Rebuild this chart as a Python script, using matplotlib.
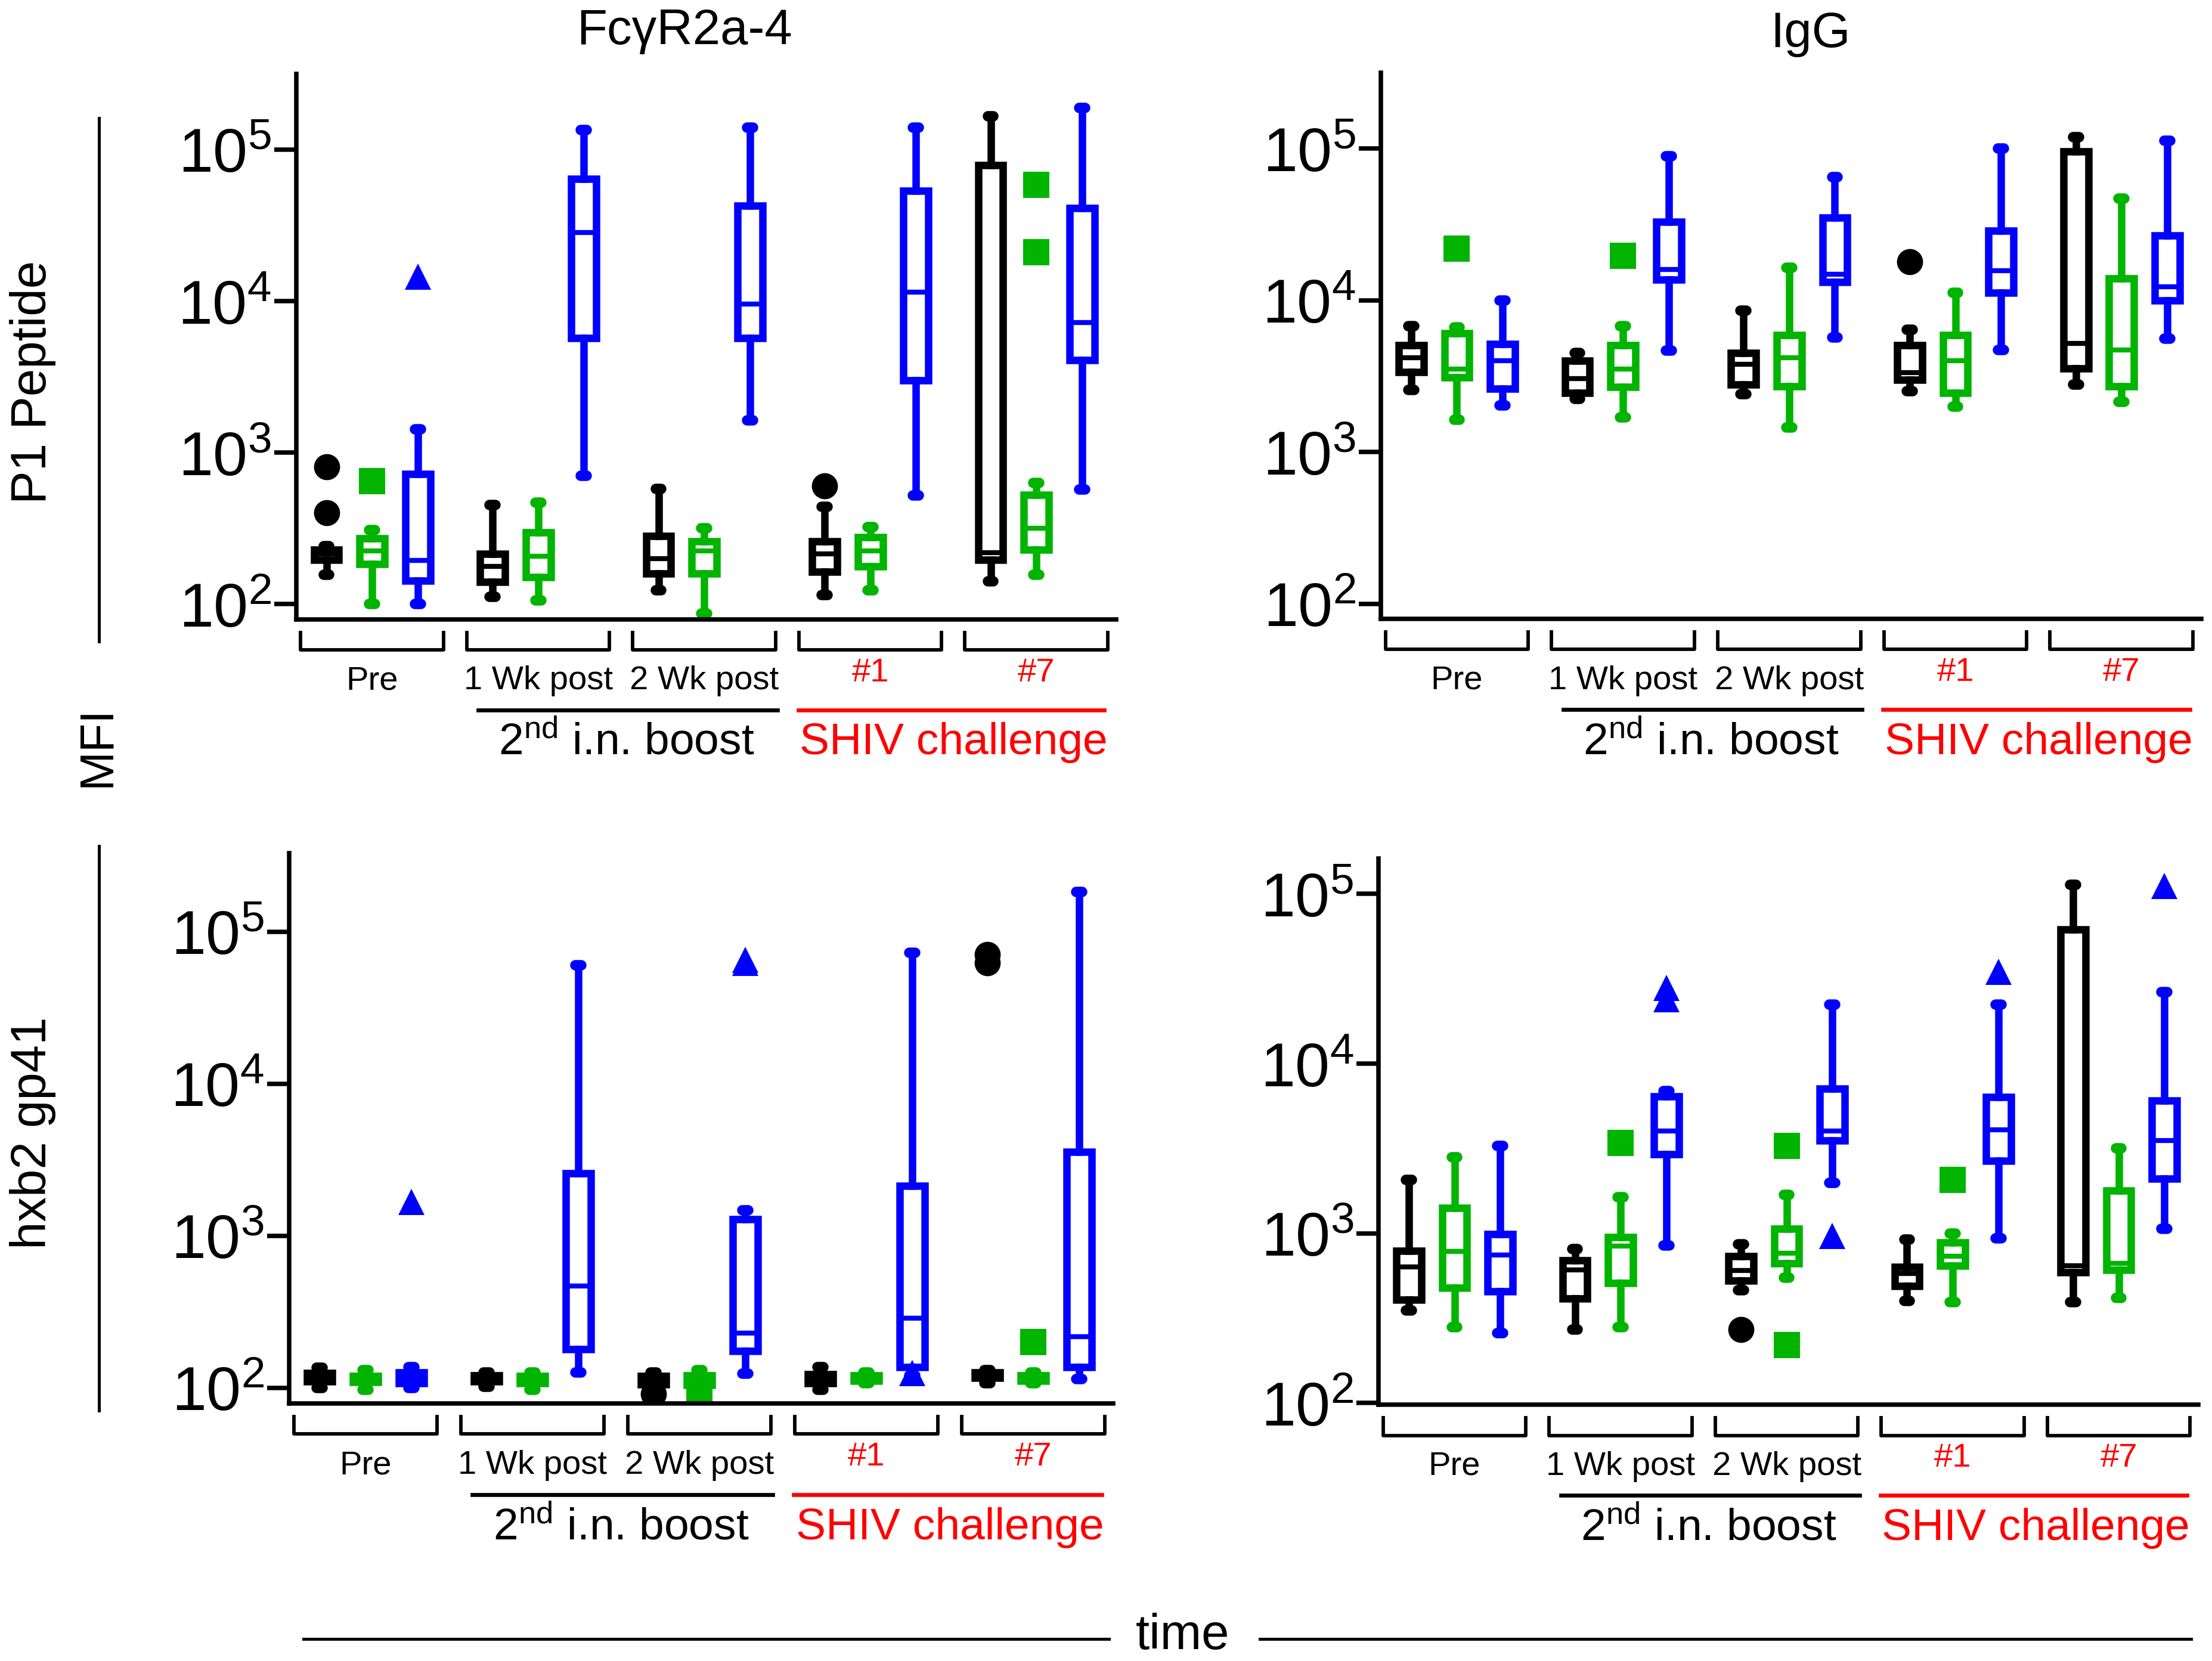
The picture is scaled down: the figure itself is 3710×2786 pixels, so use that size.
import matplotlib
matplotlib.use('Agg')
import matplotlib.pyplot as plt
import matplotlib.transforms as mtransforms
from matplotlib.lines import Line2D
from matplotlib.ticker import NullLocator

plt.rcParams['font.family'] = ['Liberation Sans', 'DejaVu Sans']
plt.rcParams['mathtext.default'] = 'regular'

# ---------------- data (MFI values) ----------------
groups = ['Pre', '1 Wk post', '2 Wk post', '#1', '#7']
group_label_colors = ['black', 'black', 'black', 'red', 'red']
series_colors = ['#000000', '#00b400', '#0000ff']
series_markers = ['o', 's', '^']

# FcgR2a-4 / P1 peptide   (rows: black, green, blue ; cols: groups)
fc_p1_whislo = [[157, 112, 124, 115, 142], [100, 106, 87, 124, 157], [100, 703, 1637, 523, 570]]
fc_p1_q1 = [[196, 140, 160, 164, 196], [184, 151, 160, 177, 229], [143, 5700, 5700, 3000, 4070]]
fc_p1_med = [[215, 177, 199, 214, 218], [224, 207, 224, 224, 318], [194, 28250, 9600, 11500, 7200]]
fc_p1_q3 = [[229, 215, 282, 261, 79000], [272, 298, 261, 276, 527], [721, 64100, 42700, 53600, 41100]]
fc_p1_whishi = [[242, 451, 579, 441, 166000], [309, 469, 318, 322, 631], [1422, 134600, 140000, 140000, 188000]]
fc_p1_fliers = [[[809, 401], [], [], [603], []],
                [[650], [], [], [], [58300, 21100]],
                [[14550], [], [], [], []]]

# IgG / P1 peptide
igg_p1_whislo = [[2570, 2233, 2415, 2510, 2780], [1637, 1698, 1456, 1985, 2150], [2020, 4660, 5700, 4690, 5570]]
igg_p1_q1 = [[3380, 2455, 2780, 3005, 3570], [3100, 2675, 2717, 2455, 2717], [2610, 13670, 13240, 11250, 10000]]
igg_p1_med = [[4170, 3055, 3800, 3350, 5190], [3515, 3515, 4170, 4010, 4690], [4010, 15960, 14900, 15730, 12250]]
igg_p1_q3 = [[5070, 4010, 4510, 5070, 96200], [6070, 5070, 5930, 5930, 14000], [5150, 33000, 35200, 28900, 26700]]
igg_p1_whishi = [[6770, 4510, 8550, 6410, 119700], [6670, 6770, 16370, 11250, 46900], [10000, 89000, 65200, 100000, 113200]]
igg_p1_fliers = [[[], [], [], [17970], []],
                 [[22000], [19600], [], [], []],
                 [[], [], [], [], []]]

# FcgR2a-4 / hxb2 gp41
fc_gp41_whislo = [[100, 102, 98, 97, 107], [97, 97, 98, 107, 107], [100, 126, 124, 121, 114]]
fc_gp41_q1 = [[110, 110, 105, 107, 116], [109, 107, 104, 111, 111], [107, 180, 175, 137, 137]]
fc_gp41_med = [[118, 116, 111, 114, 121], [114, 114, 111, 116, 116], [116, 466, 229, 288, 216]]
fc_gp41_q3 = [[125, 121, 119, 123, 126], [119, 119, 121, 121, 121], [126, 2565, 1279, 2136, 3565]]
fc_gp41_whishi = [[135, 126, 126, 137, 131], [131, 126, 131, 126, 126], [137, 60000, 1473, 72400, 183000]]
fc_gp41_fliers = [[[], [], [91], [], [62500, 70800]],
                  [[], [], [94], [], [199]],
                  [[1667], [], [62500, 65000], [125], []]]

# IgG / hxb2 gp41
igg_gp41_whislo = [[351, 271, 461, 401, 393], [281, 281, 547, 393, 416], [258, 851, 1990, 938, 1064]]
igg_gp41_q1 = [[407, 413, 527, 490, 589], [479, 508, 667, 643, 611], [455, 2925, 3515, 2680, 2100]]
igg_gp41_med = [[634, 611, 602, 580, 643], [780, 840, 762, 734, 667], [746, 4020, 4020, 4070, 3515]]
igg_gp41_q3 = [[791, 693, 734, 634, 61800], [1408, 953, 1064, 883, 1782], [988, 6400, 7150, 6350, 6040]]
igg_gp41_whishi = [[2065, 809, 865, 917, 113200], [2820, 1633, 1682, 1000, 3170], [3265, 6890, 22300, 22300, 26400]]
igg_gp41_fliers = [[[], [], [271], [], []],
                   [[], [3410], [3265, 220], [2065], []],
                   [[], [27850, 24000], [966], [34750], [111700]]]


def draw_panel(ax, whislo, q1, med, q3, whishi, fliers, ylim):
    offsets = [-0.275, 0.0, 0.275]
    for s in range(3):
        c = series_colors[s]
        stats = []
        for g in range(len(groups)):
            stats.append(dict(whislo=whislo[s][g], q1=q1[s][g], med=med[s][g],
                              q3=q3[s][g], whishi=whishi[s][g], fliers=fliers[s][g]))
        pos = [g + offsets[s] for g in range(len(groups))]
        ax.bxp(stats, positions=pos, widths=0.15, capwidths=0.035, patch_artist=True,
               boxprops=dict(facecolor='white', edgecolor=c, linewidth=3.0),
               medianprops=dict(color=c, linewidth=2.0),
               whiskerprops=dict(color=c, linewidth=3.0),
               capprops=dict(color=c, linewidth=4.2, solid_capstyle='round'),
               flierprops=dict(marker=series_markers[s], markerfacecolor=c,
                               markeredgecolor=c, markersize=10.5, markeredgewidth=0))
    ax.set_yscale('log')
    ax.set_ylim(ylim)
    ax.set_xlim(-0.457, 4.48)
    ax.set_yticks([1e2, 1e3, 1e4, 1e5])
    ax.yaxis.set_minor_locator(NullLocator())
    ax.set_xticks([])
    for side in ['top', 'right']:
        ax.spines[side].set_visible(False)
    for side in ['left', 'bottom']:
        ax.spines[side].set_linewidth(1.8)
    ax.tick_params(axis='y', length=9, width=1.8, labelsize=25, pad=1)

    # group brackets and time-point labels under the x-axis
    trans = mtransforms.blended_transform_factory(ax.transData, ax.transAxes)
    for g in range(len(groups)):
        ax.plot([g - 0.43, g - 0.43, g + 0.43, g + 0.43], [-0.024, -0.056, -0.056, -0.024],
                transform=trans, clip_on=False, color='black', lw=1.4)
        col = group_label_colors[g]
        ax.text(g, -0.112 if col == 'black' else -0.097, groups[g], transform=trans,
                ha='center', va='center', fontsize=13.5, color=col)
    ax.plot([0.64, 2.44], [-0.166, -0.166], transform=trans, clip_on=False, color='black', lw=1.6)
    ax.plot([2.565, 4.41], [-0.166, -0.166], transform=trans, clip_on=False, color='red', lw=1.6)
    ax.text(1.53, -0.225, r'2$^{nd}$ i.n. boost', transform=trans, ha='center', va='center',
            fontsize=18, color='black')
    ax.text(3.5, -0.225, 'SHIV challenge', transform=trans, ha='center', va='center',
            fontsize=18, color='red')


fig = plt.figure(figsize=(3711 / 300, 2787 / 300), dpi=300)

ax_tl = fig.add_axes([0.1339, 0.6269, 0.3705, 0.3283])
ax_tr = fig.add_axes([0.6241, 0.6272, 0.3708, 0.3286])
ax_bl = fig.add_axes([0.1307, 0.1551, 0.3725, 0.3311])
ax_br = fig.add_axes([0.6231, 0.1542, 0.3705, 0.3286])

draw_panel(ax_tl, fc_p1_whislo, fc_p1_q1, fc_p1_med, fc_p1_q3, fc_p1_whishi, fc_p1_fliers,
           (10 ** 1.9, 10 ** 5.5))
draw_panel(ax_tr, igg_p1_whislo, igg_p1_q1, igg_p1_med, igg_p1_q3, igg_p1_whishi, igg_p1_fliers,
           (10 ** 1.9, 10 ** 5.5))
draw_panel(ax_bl, fc_gp41_whislo, fc_gp41_q1, fc_gp41_med, fc_gp41_q3, fc_gp41_whishi, fc_gp41_fliers,
           (10 ** 1.898, 10 ** 5.516))
draw_panel(ax_br, igg_gp41_whislo, igg_gp41_q1, igg_gp41_med, igg_gp41_q3, igg_gp41_whishi, igg_gp41_fliers,
           (10 ** 1.99, 10 ** 5.207))

# column titles
fig.text(0.3093, 0.9813, 'FcγR2a-4', ha='center', va='center', fontsize=20)
fig.text(0.8182, 0.9796, 'IgG', ha='center', va='center', fontsize=20)

# row labels
fig.text(0.0147, 0.7699, 'P1 Peptide', rotation=90, ha='center', va='center', fontsize=20)
fig.text(0.0147, 0.3181, 'hxb2 gp41', rotation=90, ha='center', va='center', fontsize=20)
fig.text(0.044, 0.5508, 'MFI', rotation=90, ha='center', va='center', fontsize=19)
fig.add_artist(Line2D([0.0446, 0.0446], [0.9287, 0.6136], transform=fig.transFigure, color='black', lw=1.2))
fig.add_artist(Line2D([0.0446, 0.0446], [0.4905, 0.1508], transform=fig.transFigure, color='black', lw=1.2))

# time axis label
fig.text(0.5344, 0.0155, 'time', ha='center', va='center', fontsize=20)
fig.add_artist(Line2D([0.1371, 0.5013], [0.0133, 0.0133], transform=fig.transFigure, color='black', lw=1.2))
fig.add_artist(Line2D([0.5695, 0.9904], [0.0133, 0.0133], transform=fig.transFigure, color='black', lw=1.2))

fig.savefig('out.png', dpi=300)
